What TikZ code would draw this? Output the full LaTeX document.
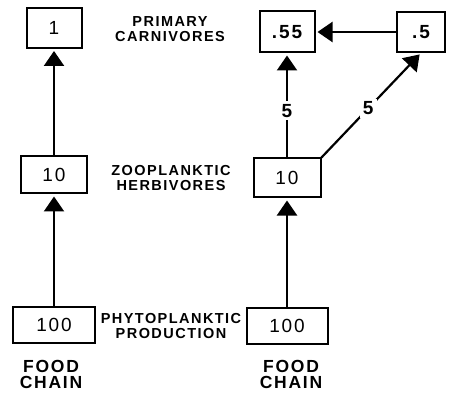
\documentclass[tikz,border=0pt]{standalone}
\usepackage{fontspec}
\setmainfont{Liberation Sans}
\newfontfamily\chainfont[LetterSpace=10]{Liberation Sans}
\usetikzlibrary{arrows.meta}

\begin{document}
\begin{tikzpicture}[x=1pt,y=-1pt,-{Triangle[width=20pt,length=15pt]},line width=2.2pt,shorten >=2pt,
    box node/.style={draw,line width=2pt,inner sep=0pt,font=\chainfont\fontsize{19}{19}\selectfont},
    level node/.style={align=center,font=\chainfont\bfseries\fontsize{14.5}{15}\selectfont},
    chain node/.style={align=center,font=\chainfont\bfseries\fontsize{17.5}{16}\selectfont},
    rate node/.style={fill=white,inner sep=3pt,font=\chainfont\bfseries\fontsize{19}{19}\selectfont}]

    \useasboundingbox (0,0) rectangle (457,395);

    % left chain
    \node[box node,minimum width=55pt,minimum height=40pt] (1) at (54,28) {1};
    \node[box node,minimum width=66pt,minimum height=37pt] (2) at (54,175) {10};
    \node[box node,minimum width=82pt,minimum height=36pt] (3) at (54,325) {100};
    \node[chain node] (4) at (51,374) {FOOD\\CHAIN};

    % trophic levels
    \node[level node] (l1) at (170,29) {PRIMARY\\CARNIVORES};
    \node[level node] (l2) at (171,178) {ZOOPLANKTIC\\HERBIVORES};
    \node[level node] (l3) at (171,326) {PHYTOPLANKTIC\\PRODUCTION};

    % right chain
    \node[box node,font=\chainfont\bfseries\fontsize{19}{19}\selectfont,minimum width=55pt,minimum height=41pt] (r1) at (287,32) {.55};
    \node[box node,font=\chainfont\bfseries\fontsize{19}{19}\selectfont,minimum width=48pt,minimum height=40pt] (r4) at (421,32) {.5};
    \node[box node,minimum width=67pt,minimum height=39pt] (r2) at (287,178) {10};
    \node[box node,minimum width=81pt,minimum height=36pt] (r3) at (287,326) {100};
    \node[chain node] (r5) at (291,374) {FOOD\\CHAIN};

    \path (3) edge (2);
    \path (2) edge (1);

    \path (r3) edge (r2);
    \path (r2) edge node[rate node,pos=0.45] {5} (r1);
    \path (r2.north east) edge node[rate node,pos=0.47] {5} (r4.south);
    \path (r4) edge (r1);
\end{tikzpicture}
\end{document}
